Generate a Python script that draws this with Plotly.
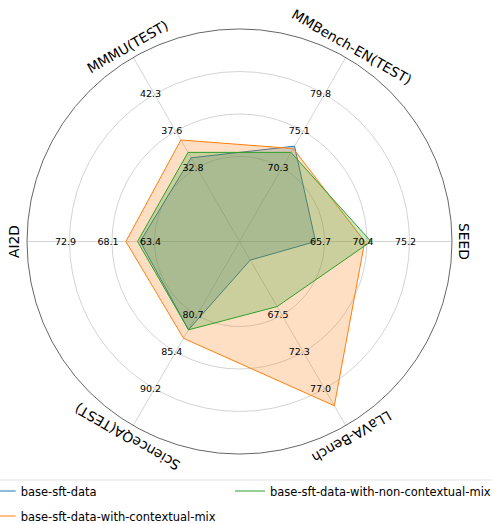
import math
import plotly.graph_objects as go

# ---------------- data ----------------
categories = ["SEED", "MMBench-EN(TEST)", "MMMU(TEST)", "AI2D", "ScienceQA(TEST)", "LLaVA-Bench"]
angles = [0, 60, 120, 180, 240, 300]

# tick labels for each axis (drawn at the 3 inner grid circles)
ticks_seed = [65.7, 70.4, 75.2]
ticks_mmbench = [70.3, 75.1, 79.8]
ticks_mmmu = [32.8, 37.6, 42.3]
ticks_ai2d = [63.4, 68.1, 72.9]
ticks_sqa = [80.7, 85.4, 90.2]
ticks_llava = [67.5, 72.3, 77.0]
axis_ticks = [ticks_seed, ticks_mmbench, ticks_mmmu, ticks_ai2d, ticks_sqa, ticks_llava]
tick_radii = [0.4, 0.6, 0.8]

series_names = ["base-sft-data", "base-sft-data-with-contextual-mix",
                "base-sft-data-with-non-contextual-mix"]
base_sft = [64.7, 73.1, 34.1, 65.0, 82.6, 60.4]
contextual_mix = [70.2, 72.8, 36.4, 66.6, 83.7, 79.2]
non_contextual_mix = [70.9, 72.3, 34.8, 65.3, 82.6, 66.4]
series_values = [base_sft, contextual_mix, non_contextual_mix]
colors = ["#1f77b4", "#ff7f0e", "#2ca02c"]
fills = ["rgba(31,119,180,0.25)", "rgba(255,127,14,0.25)", "rgba(44,160,44,0.25)"]
legend_of = ["legend", "legend2", "legend3"]

# ---------------- geometry ----------------
W, H = 492, 524
CX, CY, R = 239.5, 241.5, 212.5
FONT = "DejaVu Sans"


def to_r(v, ticks):
    t0, t2 = ticks[0], ticks[-1]
    return tick_radii[0] + (v - t0) / (t2 - t0) * (tick_radii[-1] - tick_radii[0])


fig = go.Figure()

for name, vals, col, fc, lg in zip(series_names, series_values, colors, fills, legend_of):
    rr = [to_r(v, t) for v, t in zip(vals, axis_ticks)]
    th = angles + [angles[0]]
    rr = rr + [rr[0]]
    fig.add_trace(go.Scatterpolar(r=rr, theta=th, mode="lines", fill="toself",
                                  fillcolor=fc, line=dict(color="rgba(0,0,0,0)", width=0),
                                  showlegend=False, hoverinfo="skip"))
    fig.add_trace(go.Scatterpolar(r=rr, theta=th, mode="lines", name=name,
                                  line=dict(color=col, width=1), legend=lg))

# per-axis tick labels (slightly shifted left like the original)
shift_x = -4.0 / R
shift_y = -0.7 / R
lab_r, lab_t, lab_s = [], [], []
for ang, ticks in zip(angles, axis_ticks):
    for rad, tv in zip(tick_radii, ticks):
        x = rad * math.cos(math.radians(ang)) + shift_x
        y = rad * math.sin(math.radians(ang)) + shift_y
        lab_r.append(math.hypot(x, y))
        lab_t.append(math.degrees(math.atan2(y, x)))
        lab_s.append(f"{tv:.1f}")
fig.add_trace(go.Scatterpolar(r=lab_r, theta=lab_t, mode="text", text=lab_s,
                              textfont=dict(family=FONT, size=9.5, color="#000000"),
                              showlegend=False, hoverinfo="skip"))

# rotated category labels
annotations = []
label_r_px = 225
for cat, ang in zip(categories, angles):
    a = math.radians(ang)
    px = CX + label_r_px * math.cos(a)
    py = CY - label_r_px * math.sin(a)
    textangle = 90 - ang
    if ang == 300:
        textangle = 150
    if ang == 240:
        textangle = -150
    annotations.append(dict(x=px / W, y=1 - py / H, xref="paper", yref="paper",
                            text=cat, showarrow=False, textangle=textangle,
                            xanchor="center", yanchor="middle",
                            font=dict(family=FONT, size=13.8, color="#000000")))

leg_common = dict(orientation="h", xanchor="left", yanchor="top", bgcolor="rgba(0,0,0,0)",
                  font=dict(family=FONT, size=11.5, color="#000000"), itemwidth=30)

fig.update_layout(
    width=W, height=H,
    margin=dict(l=0, r=0, t=0, b=0, autoexpand=False),
    paper_bgcolor="white",
    font=dict(family=FONT, color="#000000"),
    polar=dict(
        domain=dict(x=[(CX - R) / W, (CX + R) / W], y=[1 - (CY + R) / H, 1 - (CY - R) / H]),
        bgcolor="white",
        radialaxis=dict(range=[0, 1], tickvals=tick_radii, showticklabels=False, ticks="",
                        showline=False, gridcolor="#d4d4d4", gridwidth=0.8),
        angularaxis=dict(direction="counterclockwise", rotation=0, thetaunit="degrees",
                         tickvals=angles, showticklabels=False, ticks="",
                         showline=True, linecolor="#555555", linewidth=0.9,
                         gridcolor="#d4d4d4", gridwidth=0.8),
    ),
    legend=dict(x=-19.3 / W, y=1 - 476.5 / H, **leg_common),
    legend2=dict(x=-19.3 / W, y=1 - 501.5 / H, **leg_common),
    legend3=dict(x=230 / W, y=1 - 476.5 / H, **leg_common),
    shapes=[dict(type="line", xref="paper", yref="paper", x0=0, x1=1,
                 y0=1 - 480 / H, y1=1 - 480 / H, line=dict(color="#e3e3e3", width=1))],
    annotations=annotations,
)

fig.write_html("out.html", config={"displayModeBar": False},
               post_script="document.body.style.margin='0';")
